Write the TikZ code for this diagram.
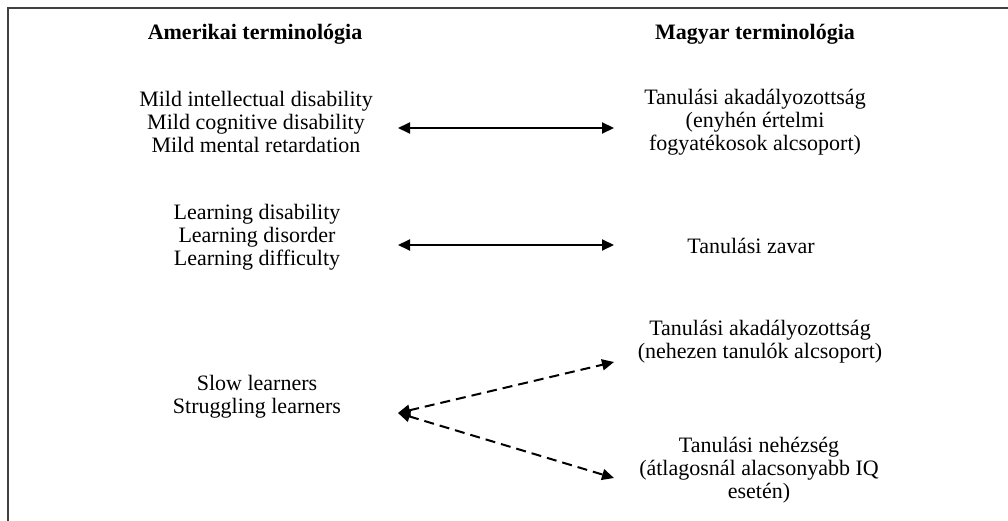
\documentclass[tikz,border=0pt]{standalone}
\usepackage{fontspec}
\setmainfont{Liberation Serif}
\usetikzlibrary{arrows.meta}
\begin{document}
\begin{tikzpicture}[x=1pt,y=-1pt,
  txt/.style={align=center,inner sep=0pt,font=\fontsize{22}{23}\selectfont},
  hdr/.style={txt,font=\fontsize{22}{23}\selectfont\bfseries},
  link/.style={line width=2pt,{Triangle[length=12pt,width=11pt]}-{Triangle[length=12pt,width=11pt]}},
  dlink/.style={link,dash pattern=on 10pt off 6pt},
  frame/.style={line width=2.5pt,draw=black!75}]
\useasboundingbox (0,0) rectangle (1008,521);
\draw[frame] (8,521) -- (8,8) -- (1008,8);
% headers
\node[hdr] (hl) at (255,34) {Amerikai terminológia};
\node[hdr] (hr) at (755,34) {Magyar terminológia};
% left column
\node[txt] (l1) at (256,122) {Mild intellectual disability\\Mild cognitive disability\\Mild mental retardation};
\node[txt] (l2) at (257,237) {Learning disability\\Learning disorder\\Learning difficulty};
\node[txt] (l3) at (257,397) {Slow learners\\Struggling learners};
% right column
\node[txt] (r1) at (755,122) {Tanulási akadályozottság\\(enyhén értelmi\\fogyatékosok alcsoport)};
\node[txt] (r2) at (751,246) {Tanulási zavar};
\node[txt] (r3) at (760,342) {Tanulási akadályozottság\\(nehezen tanulók alcsoport)};
\node[txt] (r4) at (759,470) {Tanulási nehézség\\(átlagosnál alacsonyabb IQ\\esetén)};
% arrow end points
\coordinate (a1l) at (398,128);
\coordinate (a1r) at (614,128);
\coordinate (a2l) at (398,245);
\coordinate (a2r) at (614,245);
\coordinate (a3l) at (398,413);
\coordinate (a3u) at (614,362);
\coordinate (a3d) at (614,478);
\draw[link] (a1l) -- (a1r);
\draw[link] (a2l) -- (a2r);
\draw[dlink] (a3l) -- (a3u);
\draw[dlink] (a3l) -- (a3d);
\end{tikzpicture}
\end{document}
